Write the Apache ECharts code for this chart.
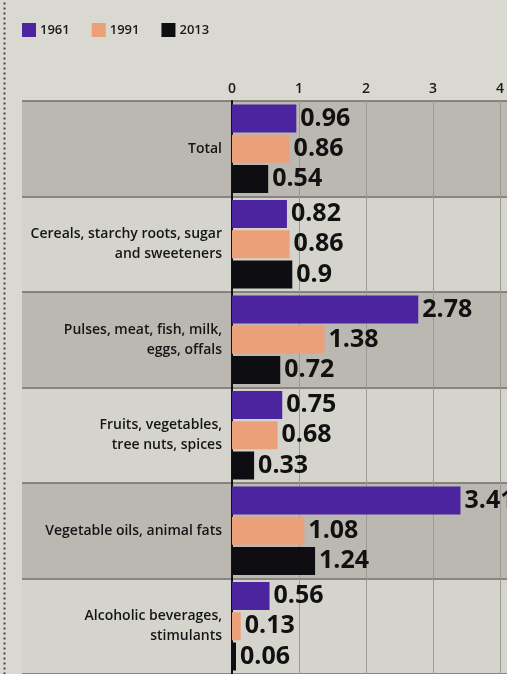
<!DOCTYPE html>
<html>
<head>
<meta charset="utf-8">
<script src="https://cdn.jsdelivr.net/npm/echarts@6/dist/echarts.min.js"></script>
<style>
html,body{margin:0;padding:0;background:#dad9d1;}
#c{width:507px;height:674px;}
</style>
</head>
<body>
<div id="c"></div>
<script>
const categories = [
  "Total",
  "Cereals, starchy roots, sugar\nand sweeteners",
  "Pulses, meat, fish, milk,\neggs, offals",
  "Fruits, vegetables,\ntree nuts, spices",
  "Vegetable oils, animal fats",
  "Alcoholic beverages,\nstimulants"
];
const seriesNames = ["1961", "1991", "2013"];
const values1961 = [0.96, 0.82, 2.78, 0.75, 3.41, 0.56];
const values1991 = [0.86, 0.86, 1.38, 0.68, 1.08, 0.13];
const values2013 = [0.54, 0.9, 0.72, 0.33, 1.24, 0.06];
const xTicks = [0, 1, 2, 3, 4];

const colors = ["#4c24a0", "#eba07a", "#0d0d12"];
const allValues = [values1961, values1991, values2013];

const chart = echarts.init(document.getElementById('c'), null, {renderer: 'canvas'});

const labelFont = {fontFamily: 'Open Sans', fontWeight: 700, fontSize: 25, color: '#111'};

const option = {
  backgroundColor: '#dad9d1',
  animation: false,
  legend: {
    left: 17, top: 18,
    itemWidth: 14, itemHeight: 14, itemGap: 22,
    icon: 'rect',
    textStyle: {fontFamily: 'Open Sans', fontWeight: 600, fontSize: 13, color: '#1a1a1a', padding: [0,0,0,-1]},
    data: seriesNames
  },
  graphic: [{
    type: 'line', left: 2, top: 0,
    shape: {x1: 0, y1: 0, x2: 0, y2: 674},
    style: {stroke: '#444', lineWidth: 2, lineDash: [2, 3]}
  }],
  grid: [
    {left: 22, right: 0, top: 101, bottom: 0},
    {left: 232, right: 7, top: 101, bottom: 0}
  ],
  xAxis: [
    {gridIndex: 0, type: 'value', show: false, min: 0, max: 1},
    {
      gridIndex: 1, type: 'value', position: 'top', min: 0, max: 4, interval: 1,
      axisLine: {show: false}, axisTick: {show: false},
      axisLabel: {
        fontFamily: 'Open Sans', fontWeight: 600, fontSize: 14, color: '#1a1a1a', margin: 5,
        formatter: v => xTicks.includes(v) ? String(v) : ''
      },
      splitLine: {show: true, lineStyle: {color: '#9c9a94', width: 1}}
    }
  ],
  yAxis: [
    {
      gridIndex: 0, type: 'category', data: categories, inverse: true,
      axisLine: {show: false}, axisTick: {show: false}, axisLabel: {show: false},
      splitArea: {show: true, areaStyle: {color: ['#bab8b1', '#d5d4cc']}},
      splitLine: {show: true, lineStyle: {color: '#6e6c68', width: 1.5}}
    },
    {
      gridIndex: 1, type: 'category', data: categories, inverse: true,
      axisLine: {show: true, lineStyle: {color: '#111', width: 2}},
      axisTick: {show: false},
      axisLabel: {
        fontFamily: 'Open Sans', fontWeight: 600, fontSize: 14, color: '#151515', margin: 10,
        lineHeight: 20, align: 'right', padding: [0, 0, 6, 0]
      }
    }
  ],
  series: seriesNames.map((name, i) => ({
    name: name,
    type: 'bar',
    xAxisIndex: 1, yAxisIndex: 1,
    data: allValues[i],
    barWidth: 28,
    barGap: '8%',
    itemStyle: {color: colors[i]},
    label: Object.assign({
      show: true, position: 'right', distance: 4,
      formatter: p => String(p.value)
    }, labelFont)
  }))
};
chart.setOption(option);
</script>
</body>
</html>
